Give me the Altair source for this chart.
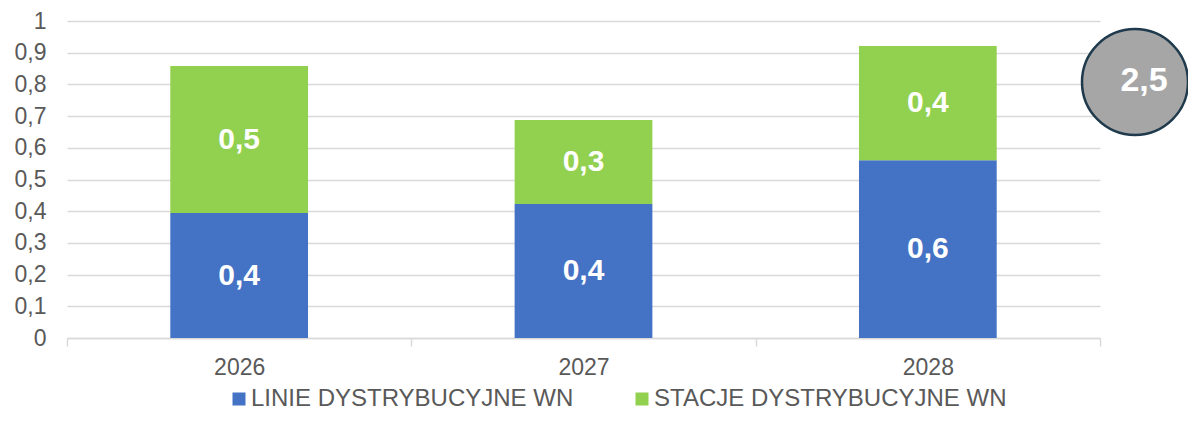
import altair as alt
import pandas as pd

years = ["2026", "2027", "2028"]
series = ["LINIE DYSTRYBUCYJNE WN", "STACJE DYSTRYBUCYJNE WN"]
linie = [0.394, 0.423, 0.561]
stacje = [0.464, 0.265, 0.360]
colors = ["#4472C4", "#92D050"]
y_ticks = [0, 0.1, 0.2, 0.3, 0.4, 0.5, 0.6, 0.7, 0.8, 0.9, 1]

rows = []
for i, y in enumerate(years):
    rows.append({"year": y, "series": series[0], "value": linie[i], "order": 0})
    rows.append({"year": y, "series": series[1], "value": stacje[i], "order": 1})
df = pd.DataFrame(rows)
total_df = pd.DataFrame({"total": [sum(linie) + sum(stacje)]})

FONT = "Liberation Sans"
GRAY_TXT = "#595959"
GRID = "#d9d9d9"

x_axis = alt.Axis(
    title=None, labelAngle=0, tickBand="extent", tickSize=8, tickColor=GRID,
    tickWidth=1.5, domainColor=GRID, domainWidth=1.5, labelPadding=10,
    labelFontSize=23, labelColor=GRAY_TXT, labelFont=FONT, grid=False,
)
y_axis = alt.Axis(
    title=None, values=y_ticks, grid=True, gridColor=GRID, gridWidth=1.5,
    domain=False, ticks=False, tickSize=0, labelPadding=21, labelOverlap=False,
    labelFontSize=23, labelColor=GRAY_TXT, labelFont=FONT,
    labelExpr="replace(format(datum.value, '~g'), '.', ',')",
)
x_scale = alt.Scale(paddingInner=0, paddingOuter=0)
y_scale = alt.Scale(domain=[0, 1], nice=False)

base = alt.Chart(df).transform_stack(
    stack="value", groupby=["year"], as_=["y0", "y1"], sort=[alt.SortField("order")]
).transform_calculate(
    mid="(datum.y0 + datum.y1) / 2",
    label="replace(format(datum.value, '.1f'), '.', ',')",
)

bars = base.mark_bar(width=alt.RelativeBandSize(0.4)).encode(
    x=alt.X("year:N", sort=years, scale=x_scale, axis=x_axis),
    y=alt.Y("y0:Q", scale=y_scale, axis=y_axis),
    y2="y1:Q",
    color=alt.Color(
        "series:N",
        scale=alt.Scale(domain=series, range=colors),
        legend=alt.Legend(
            title=None, orient="none", legendX=160, legendY=366, direction="horizontal",
            columns=2, symbolType="square", symbolSize=169, symbolStrokeWidth=0,
            labelFontSize=24, labelColor=GRAY_TXT, labelFont=FONT, labelLimit=600,
            columnPadding=56, labelOffset=0, padding=0,
        ),
    ),
)

texts = base.mark_text(
    color="white", fontSize=30, fontWeight="bold", font=FONT, baseline="middle"
).encode(
    x=alt.X("year:N", sort=years, scale=x_scale, axis=x_axis),
    y=alt.Y("mid:Q", scale=y_scale, axis=y_axis),
    text="label:N",
)

circle = alt.Chart(total_df).mark_point(
    shape="circle", filled=True, size=11236, color="#a6a6a6",
    stroke="#1f3a4c", strokeWidth=2.5, opacity=1,
).encode(x=alt.value(1068), y=alt.value(61))

circle_text = alt.Chart(total_df).transform_calculate(
    label="replace(format(datum.total, '.1f'), '.', ',')"
).mark_text(
    color="white", fontSize=34, fontWeight="bold", font=FONT, baseline="middle"
).encode(x=alt.value(1077), y=alt.value(60), text="label:N")

chart = alt.layer(bars, texts, circle, circle_text).properties(
    width=1033,
    height=317,
    autosize=alt.AutoSizeParams(type="none"),
    padding={"left": 59, "top": 13, "right": 88, "bottom": 76},
).configure(font=FONT).configure_view(stroke=None)

chart.save("out.html", embed_options={"renderer": "svg", "actions": False})
